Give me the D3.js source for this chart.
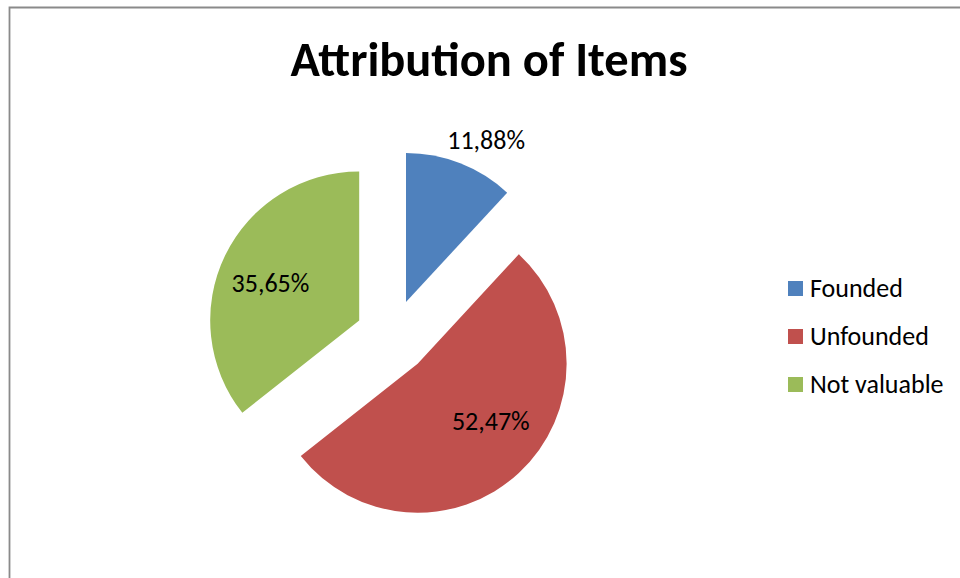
<!DOCTYPE html>
<html>
<head>
<meta charset="utf-8">
<script src="https://cdn.jsdelivr.net/npm/d3@7"></script>
<style>
  html, body { margin: 0; padding: 0; background: #fff; }
  svg { display: block; }
  text { font-family: Carlito, "Open Sans", Lato, sans-serif; fill: #000; }
</style>
</head>
<body>
<svg id="chart" width="960" height="578"></svg>
<script>
// Chart data
const categories = ["Founded", "Unfounded", "Not valuable"];
const shares = [11.88, 52.47, 35.65];
const colors = ["#4F81BD", "#C0504D", "#9BBB59"];
const title = "Attribution of Items";

const W = 960, H = 578;
const svg = d3.select("#chart");

// Chart frame (runs past the right and bottom edges)
svg.append("path")
  .attr("d", `M9.5,${H + 5}V7.5H${W + 5}`)
  .attr("fill", "none")
  .attr("stroke", "#8a8a8a")
  .attr("stroke-width", 1.8);

// Title
svg.append("text")
  .attr("x", 489)
  .attr("y", 76)
  .attr("text-anchor", "middle")
  .attr("font-weight", "bold")
  .attr("font-size", 48.5)
  .text(title);

// Pie layout: first slice starts at 12 o'clock, clockwise
const cx = 392.5, cy = 336.5, radius = 149, explode = 37;
const pie = d3.pie().sort(null).value(d => d)(shares);
const arc = d3.arc().innerRadius(0).outerRadius(radius);

const g = svg.append("g").attr("transform", `translate(${cx},${cy})`);

const slices = g.selectAll("g.slice")
  .data(pie)
  .join("g")
  .attr("class", "slice")
  .attr("transform", d => {
    const a = (d.startAngle + d.endAngle) / 2;
    return `translate(${explode * Math.sin(a)},${-explode * Math.cos(a)})`;
  });

slices.append("path")
  .attr("d", arc)
  .attr("fill", (d, i) => colors[i]);

// Data label placement per slice: radial distance (fraction of radius) and angular shift
const labelPlace = [
  { r: 1.21, shift: 5 },
  { r: 0.625, shift: -9 },
  { r: 0.645, shift: -3.2 }
];
const fmt = v => v.toFixed(2).replace(".", ",") + "%";

slices.append("text")
  .attr("text-anchor", "middle")
  .attr("font-size", 26)
  .attr("dy", "0.32em")
  .attr("x", (d, i) => {
    const a = (d.startAngle + d.endAngle) / 2 + labelPlace[i].shift * Math.PI / 180;
    return radius * labelPlace[i].r * Math.sin(a);
  })
  .attr("y", (d, i) => {
    const a = (d.startAngle + d.endAngle) / 2 + labelPlace[i].shift * Math.PI / 180;
    return -radius * labelPlace[i].r * Math.cos(a);
  })
  .text(d => fmt(d.data));

// Legend
const legend = svg.append("g").attr("transform", "translate(788,281)");
const items = legend.selectAll("g")
  .data(categories)
  .join("g")
  .attr("transform", (d, i) => `translate(0,${i * 48})`);
items.append("rect")
  .attr("width", 15).attr("height", 15)
  .attr("fill", (d, i) => colors[i]);
items.append("text")
  .attr("x", 22)
  .attr("y", 16)
  .attr("font-size", 26)
  .text(d => d);
</script>
</body>
</html>
